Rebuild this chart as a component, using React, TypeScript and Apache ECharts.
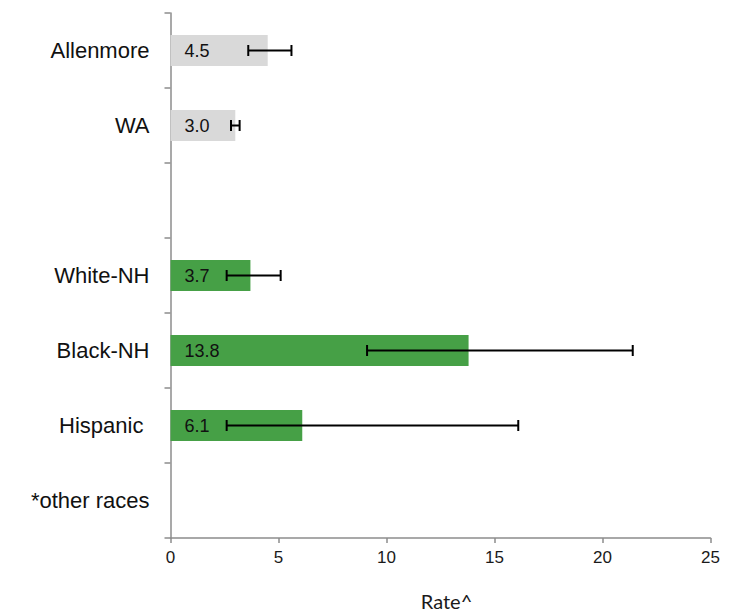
import React, { useEffect, useRef } from "react";
import * as echarts from "echarts";

const categories = ["Allenmore", "WA", "", "White-NH", "Black-NH", "Hispanic ", "*other races"];
const rates: (number | null)[] = [4.5, 3.0, null, 3.7, 13.8, 6.1, null];
const lowerCI: (number | null)[] = [3.6, 2.8, null, 2.6, 9.1, 2.6, null];
const upperCI: (number | null)[] = [5.6, 3.2, null, 5.1, 21.4, 16.1, null];
const barColors = ["#d9d9d9", "#d9d9d9", "#46a046", "#46a046", "#46a046", "#46a046", "#46a046"];
const xTicks = [0, 5, 10, 15, 20, 25];

const ARIAL = "'Liberation Sans', Arial, sans-serif";

export default function App() {
  const ref = useRef<HTMLDivElement>(null);
  useEffect(() => {
    if (!ref.current) return;
    const chart = echarts.init(ref.current, undefined, { renderer: "svg" });
    const barData = rates.map((v, i) =>
      v == null ? "-" : { value: v, itemStyle: { color: barColors[i] } }
    );
    const errData = categories
      .map((_, i) => (lowerCI[i] == null ? null : [i, lowerCI[i], upperCI[i]]))
      .filter((d) => d != null);
    chart.setOption({
      animation: false,
      grid: {
        left: 170.5,
        right: 25.5,
        top: 13,
        bottom: 75,
        containLabel: false,
        outerBoundsMode: "none",
      },
      xAxis: {
        type: "value",
        min: xTicks[0],
        max: xTicks[xTicks.length - 1],
        interval: 5,
        splitLine: { show: false },
        axisLine: { show: true, lineStyle: { color: "#8c8c8c", width: 1.5 } },
        axisTick: { show: true, length: 5, lineStyle: { color: "#8c8c8c", width: 1.5 } },
        axisLabel: {
          color: "#1a1a1a",
          fontSize: 17,
          fontFamily: ARIAL,
          margin: 11,
        },
        name: "Rate^",
        nameLocation: "middle",
        nameGap: 53,
        nameTextStyle: {
          color: "#1a1a1a",
          fontSize: 20,
          lineHeight: 20,
          fontFamily: "Lato, sans-serif",
          padding: [0, 0, 0, 12],
        },
      },
      yAxis: {
        type: "category",
        inverse: true,
        data: categories,
        axisLine: { show: true, lineStyle: { color: "#8c8c8c", width: 1.5 } },
        axisTick: { show: true, length: 6, lineStyle: { color: "#8c8c8c", width: 1.5 } },
        axisLabel: {
          color: "#111",
          fontSize: 22,
          fontFamily: ARIAL,
          margin: 21,
          interval: 0,
        },
      },
      series: [
        {
          type: "bar",
          data: barData,
          barWidth: 31,
          label: {
            show: true,
            position: "insideLeft",
            distance: 14,
            color: "#111",
            fontSize: 18,
            fontFamily: ARIAL,
            formatter: (p: any) => Number(p.value).toFixed(1),
          },
        },
        {
          type: "custom",
          data: errData,
          encode: { x: [1, 2], y: 0 },
          renderItem: (params: any, api: any) => {
            const idx = api.value(0);
            const lo = api.coord([api.value(1), idx]);
            const hi = api.coord([api.value(2), idx]);
            const h = 5.5;
            const style = { stroke: "#000", lineWidth: 2 };
            return {
              type: "group",
              children: [
                { type: "line", shape: { x1: lo[0], y1: lo[1], x2: hi[0], y2: hi[1] }, style },
                { type: "line", shape: { x1: lo[0], y1: lo[1] - h, x2: lo[0], y2: lo[1] + h }, style },
                { type: "line", shape: { x1: hi[0], y1: hi[1] - h, x2: hi[0], y2: hi[1] + h }, style },
              ],
            };
          },
          z: 10,
        },
      ],
    });
    return () => chart.dispose();
  }, []);
  return <div ref={ref} style={{ width: 736, height: 613, position: "absolute", left: 0, top: 0 }} />;
}
